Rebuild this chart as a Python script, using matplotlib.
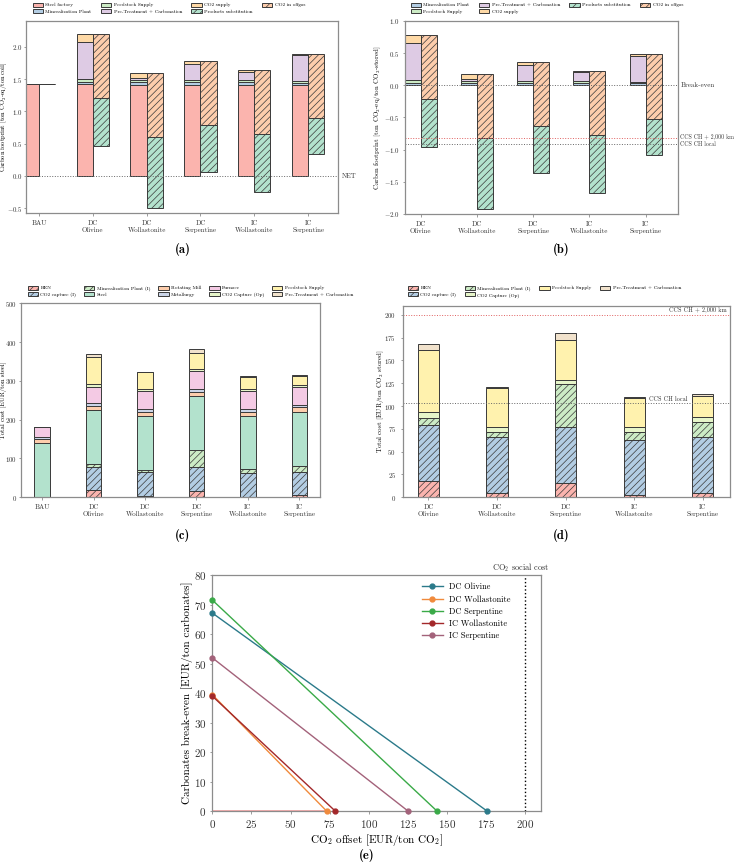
import numpy as np
import matplotlib
matplotlib.use("Agg")
import matplotlib.pyplot as plt

plt.rcParams.update({
    "font.family": "serif",
    "font.serif": ["cmr10"],
    "mathtext.fontset": "cm",
    "axes.formatter.use_mathtext": True,
    "hatch.linewidth": 0.5,
})

# ---------------- data ----------------
cats_a = ["BAU", "DC\nOlivine", "DC\nWollastonite", "DC\nSerpentine", "IC\nWollastonite", "IC\nSerpentine"]
cats_b = cats_a[1:]

# (a) carbon footprint per ton coil
steel_factory_a = [1.42, 1.42, 1.41, 1.41, 1.41, 1.41]
mineral_plant_a = [0.0, 0.04, 0.04, 0.04, 0.04, 0.03]
feedstock_a = [0.0, 0.04, 0.03, 0.03, 0.03, 0.03]
pretreat_a = [0.0, 0.57, 0.04, 0.25, 0.13, 0.40]
co2_supply_a = [0.0, 0.13, 0.08, 0.05, 0.03, 0.02]
substitution_a = [0.0, 0.75, 1.10, 0.73, 0.90, 0.56]
offgas_a = [0.0, 0.99, 1.00, 0.99, 0.99, 0.99]

# (b) carbon footprint per ton CO2 stored
mineral_plant_b = [0.04, 0.03, 0.03, 0.03, 0.03]
feedstock_b = [0.04, 0.03, 0.03, 0.04, 0.02]
pretreat_b = [0.58, 0.04, 0.25, 0.13, 0.41]
co2_supply_b = [0.13, 0.08, 0.06, 0.03, 0.02]
substitution_b = [0.75, 1.10, 0.74, 0.90, 0.56]
offgas_b = [1.0, 1.0, 1.0, 1.0, 1.0]
ccs_2000km_b = -0.82
ccs_local_b = -0.91

# (c) total cost per ton steel
hen_c = [0, 18, 4, 16, 2, 5]
co2cap_i_c = [0, 60, 60, 61, 61, 60]
mineral_i_c = [0, 8, 6, 46, 9, 16]
steel_c = [140, 140, 140, 138, 138, 140]
rotmill_c = [10, 10, 11, 10, 11, 11]
metallurgy_c = [6, 7, 7, 7, 7, 6]
furnace_c = [24, 42, 45, 47, 45, 46]
capop_c = [0, 8, 5, 6, 6, 6]
feed_c = [0, 68, 44, 41, 32, 23]
pretreat_c = [0, 8, 1, 9, 2, 2]

# (d) total cost per ton CO2 stored
hen_d = [18, 5, 16, 2, 5]
co2cap_i_d = [61, 61, 61, 61, 61]
mineral_i_d = [8, 6, 47, 9, 16]
capop_d = [6, 5, 5, 5, 6]
feed_d = [68, 43, 43, 32, 23]
pretreat_d = [7, 1, 8, 1, 2]
ccs_2000km_d = 200
ccs_local_d = 103

# (e) break-even lines
series_e = ["DC Olivine", "DC Wollastonite", "DC Serpentine", "IC Wollastonite", "IC Serpentine"]
breakeven_e = [67.2, 39.5, 71.6, 39.0, 52.0]
offset_e = [175.5, 73.0, 143.5, 78.5, 125.0]
social_cost_e = 200

# ---------------- style ----------------
P1 = ["#fbb4ae", "#b3cde3", "#ccebc5", "#decbe4", "#fed9a6"]
P2 = ["#b3e2cd", "#fdcdac", "#cbd5e8", "#f4cae4", "#e6f5c9", "#fff2ae", "#f1e2cc"]
EDGE = "#3a3a3a"
SPINE = "#8c8c8c"
TICK_FS = 5
LEG_FS = 3.7

fig = plt.figure(figsize=(7.34, 8.67), dpi=100)


def style(ax, fs=TICK_FS, pad=1.5):
    for s in ax.spines.values():
        s.set_color(SPINE)
        s.set_linewidth(0.9)
    ax.tick_params(labelsize=fs, colors="#333333", length=1.8, width=0.6)
    ax.tick_params(axis="both", color=SPINE)
    ax.tick_params(axis="y", pad=pad)


def legend(ax, ncol, x, y, colsp=1.8):
    ax.legend(loc="upper left", bbox_to_anchor=(x, y), bbox_transform=fig.transFigure,
              ncol=ncol, fontsize=LEG_FS, frameon=False, borderpad=0, handlelength=2.0,
              handleheight=0.8, handletextpad=0.5, columnspacing=colsp, labelspacing=0.3)


def bar_kw(color, hatch=None):
    return dict(color=color, edgecolor=EDGE, linewidth=0.7, hatch=hatch)


# ---------------- (a) ----------------
ax = fig.add_axes([26 / 734, 1 - 213.3 / 867, 312.3 / 734, 192.3 / 867])
x = np.arange(len(cats_a))
w = 0.3
bottom = np.zeros(len(cats_a))
for vals, col, lab in zip([steel_factory_a, mineral_plant_a, feedstock_a, pretreat_a, co2_supply_a], P1,
                          ["Steel factory", "Mineralization Plant", "Feedstock Supply",
                           "Pre-Treatment + Carbonation", "CO2 supply"]):
    ax.bar(x - w / 2, vals, w, bottom=bottom, label=lab, **bar_kw(col))
    bottom += np.array(vals)
total = bottom
sub = np.array(substitution_a)
off = np.array(offgas_a)
ax.bar(x + w / 2, sub, w, bottom=total - off - sub, label="Products substitution", **bar_kw(P2[0], "/////"))
ax.bar(x + w / 2, off, w, bottom=total - off, label="CO2 in offgas", **bar_kw(P2[1], "/////"))
ax.axhline(0, color="#666666", ls=":", lw=0.7)
ax.text(1.01, 0, "NET", transform=ax.get_yaxis_transform(), fontsize=5, va="center", color="#333333")
ax.set_xlim(-0.24, 5.56)
ax.set_ylim(-0.58, 2.4)
ax.set_yticks(np.arange(-0.5, 2.01, 0.5))
ax.set_xticks(x)
ax.set_xticklabels(cats_a)
ax.set_ylabel(r"Carbon footprint [ton CO$_2$-eq/ton coil]", fontsize=4.6)
style(ax, pad=0.8)
ax.yaxis.set_label_coords(-0.053, 0.5)
legend(ax, 4, 30 / 734, 1.0)

# ---------------- (b) ----------------
ax = fig.add_axes([404.7 / 734, 1 - 214 / 867, 273 / 734, 193 / 867])
x = np.arange(len(cats_b))
w = 0.284
bottom = np.zeros(len(cats_b))
for vals, col, lab in zip([mineral_plant_b, feedstock_b, pretreat_b, co2_supply_b], P1[1:],
                          ["Mineralization Plant", "Feedstock Supply",
                           "Pre-Treatment + Carbonation", "CO2 supply"]):
    ax.bar(x - w / 2, vals, w, bottom=bottom, label=lab, **bar_kw(col))
    bottom += np.array(vals)
total = bottom
sub = np.array(substitution_b)
off = np.array(offgas_b)
ax.bar(x + w / 2, sub, w, bottom=total - off - sub, label="Products substitution", **bar_kw(P2[0], "/////"))
ax.bar(x + w / 2, off, w, bottom=total - off, label="CO2 in offgas", **bar_kw(P2[1], "/////"))
ax.axhline(0, color="#666666", ls=":", lw=0.7)
ax.axhline(ccs_2000km_b, color="#e06060", ls=":", lw=0.7)
ax.axhline(ccs_local_b, color="#666666", ls=":", lw=0.7)
tr = ax.get_yaxis_transform()
ax.text(1.01, 0, "Break-even", transform=tr, fontsize=5, va="center", color="#333333")
ax.text(1.01, ccs_2000km_b + 0.02, "CCS CH + 2,000 km", transform=tr, fontsize=4.2, va="center", color="#333333")
ax.text(1.01, ccs_local_b - 0.01, "CCS CH local", transform=tr, fontsize=4.2, va="center", color="#333333")
ax.set_xlim(-0.284, 4.57)
ax.set_ylim(-2, 1)
ax.set_yticks(np.arange(-2, 1.01, 0.5))
ax.set_xticks(x)
ax.set_xticklabels(cats_b)
ax.set_ylabel(r"Carbon footprint [ton CO$_2$-eq/ton CO$_2$-stored]", fontsize=5)
style(ax, pad=2)
ax.yaxis.set_label_coords(-0.08, 0.5)
legend(ax, 4, 408 / 734, 1.0)

# ---------------- (c) ----------------
ax = fig.add_axes([21 / 734, 1 - 497.3 / 867, 299 / 734, 194 / 867])
x = np.arange(len(cats_a))
w = 0.305
layers_c = [
    (hen_c, P1[0], "/////", "HEN"),
    (co2cap_i_c, P1[1], "/////", "CO2 capture (I)"),
    (mineral_i_c, P1[2], "/////", "Mineralization Plant (I)"),
    (steel_c, P2[0], None, "Steel"),
    (rotmill_c, P2[1], None, "Rotating Mill"),
    (metallurgy_c, P2[2], None, "Metallurgy"),
    (furnace_c, P2[3], None, "Furnace"),
    (capop_c, P2[4], None, "CO2 Capture (Op)"),
    (feed_c, P2[5], None, "Feedstock Supply"),
    (pretreat_c, P2[6], None, "Pre-Treatment + Carbonation"),
]
bottom = np.zeros(len(cats_a))
for vals, col, h, lab in layers_c:
    ax.bar(x, vals, w, bottom=bottom, label=lab, **bar_kw(col, h))
    bottom += np.array(vals)
ax.set_xlim(-0.41, 5.4)
ax.set_ylim(0, 500)
ax.set_xticks(x)
ax.set_xticklabels(cats_a)
ax.set_ylabel("Total cost [EUR/ton steel]", fontsize=4.8)
style(ax, pad=0.8)
ax.yaxis.set_label_coords(-0.047, 0.5)
legend(ax, 5, 25 / 734, 1 - 283 / 867, colsp=1.5)

# ---------------- (d) ----------------
ax = fig.add_axes([402.7 / 734, 1 - 497.3 / 867, 327.6 / 734, 191.6 / 867])
x = np.arange(len(cats_b))
w = 0.31
layers_d = [
    (hen_d, P1[0], "/////", "HEN"),
    (co2cap_i_d, P1[1], "/////", "CO2 capture (I)"),
    (mineral_i_d, P1[2], "/////", "Mineralization Plant (I)"),
    (capop_d, P2[4], None, "CO2 Capture (Op)"),
    (feed_d, P2[5], None, "Feedstock Supply"),
    (pretreat_d, P2[6], None, "Pre-Treatment + Carbonation"),
]
bottom = np.zeros(len(cats_b))
for vals, col, h, lab in layers_d:
    ax.bar(x, vals, w, bottom=bottom, label=lab, **bar_kw(col, h))
    bottom += np.array(vals)
ax.axhline(ccs_2000km_d, color="#e06060", ls=":", lw=0.7)
ax.axhline(ccs_local_d, color="#666666", ls=":", lw=0.7)
tr = ax.get_yaxis_transform()
ax.text(0.99, ccs_2000km_d + 2, "CCS CH + 2,000 km", transform=tr, fontsize=4.5, ha="right", va="bottom", color="#333333")
ax.text(3.5, ccs_local_d + 1, "CCS CH local", fontsize=4.5, ha="center", va="bottom", color="#333333")
ax.set_xlim(-0.375, 4.4)
ax.set_ylim(0, 210)
ax.set_yticks(np.arange(0, 201, 25))
ax.set_xticks(x)
ax.set_xticklabels(cats_b)
ax.set_ylabel(r"Total cost [EUR/ton CO$_2$ stored]", fontsize=5)
style(ax, pad=3)
ax.yaxis.set_label_coords(-0.052, 0.5)
legend(ax, 4, 405 / 734, 1 - 283 / 867, colsp=1.6)

# ---------------- (e) ----------------
ax = fig.add_axes([212.3 / 734, 1 - 811 / 867, 328.7 / 734, 235.7 / 867])
colors_e = ["#2b7a8a", "#f08a3c", "#3aaa48", "#a3282a", "#a3627a"]
ax.plot([0, offset_e[1]], [0, 0], color="#f4a0a0", lw=1.2, zorder=2)
for name, y0, x0, col in zip(series_e, breakeven_e, offset_e, colors_e):
    ax.plot([0, x0], [y0, 0], color=col, lw=1.0, marker="o", ms=3.5, label=name, zorder=3, clip_on=False)
ax.axvline(social_cost_e, color="black", ls=":", lw=1.0)
ax.text(social_cost_e - 3, 80.6, r"CO$_2$ social cost", fontsize=6, ha="center", va="bottom", color="#333333")
ax.set_xlim(0, 210)
ax.set_ylim(0, 80)
ax.set_xticks(np.arange(0, 201, 25))
ax.set_yticks(np.arange(0, 81, 10))
ax.set_xlabel(r"CO$_2$ offset [EUR/ton CO$_2$]", fontsize=8, labelpad=1)
ax.set_ylabel("Carbonates break-even [EUR/ton carbonates]", fontsize=8)
style(ax, fs=8, pad=2.5)
ax.yaxis.set_label_coords(-0.058, 0.5)
ax.legend(loc="upper left", bbox_to_anchor=(0.625, 0.985), fontsize=6, frameon=False,
          borderpad=0, handlelength=2.5, labelspacing=0.45)

# captions
for lab, cx, cy in [("(a)", 183, 250), ("(b)", 561, 250), ("(c)", 183, 535), ("(d)", 561, 535), ("(e)", 367, 855)]:
    fig.text(cx / 734, 1 - cy / 867, lab, fontfamily="cmb10", fontsize=9, ha="center", va="center")

fig.savefig("out.png", dpi=100)
